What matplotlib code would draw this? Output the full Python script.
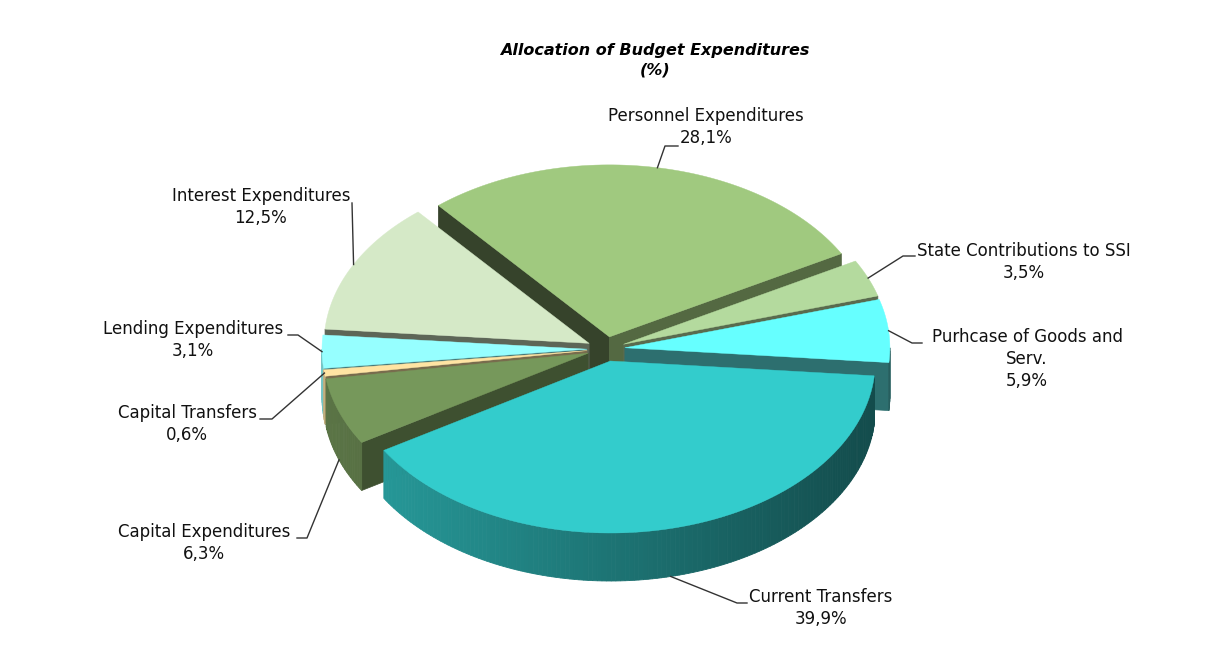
import numpy as np
import matplotlib
matplotlib.use("Agg")
import matplotlib.pyplot as plt
from matplotlib.patches import Polygon

# data
categories = ["Personnel Expenditures", "State Contributions to SSI",
              "Purhcase of Goods and\nServ.", "Current Transfers",
              "Capital Expenditures", "Capital Transfers",
              "Lending Expenditures", "Interest Expenditures"]
shares = [28.1, 3.5, 5.9, 39.9, 6.3, 0.6, 3.1, 12.5]
colors = ["#a0c97f", "#b4da9e", "#66ffff", "#33cccc",
          "#76985b", "#ffe4a3", "#96ffff", "#d5e9c7"]

# label layout: text centre, elbow of leader line, end of leader line
label_pos = [(706, 127), (1024, 262), (1027, 359), (821, 608),
             (204, 543), (187, 424), (193, 340), (261, 207)]
leader_elbow = [(665, 146), (903, 256), (912, 343), (737, 603),
                (307, 538), (272, 419), (298, 335), (352, 203)]
leader_end = [(678, 146), (915, 256), (922, 343), (747, 603),
              (297, 538), (260, 419), (288, 335), None]

# pie geometry (pixels)
cx, cy = 606, 349
rx, ry = 265, 172
depth = 48
explode = 19
start_angle = 130.2

plt.rcParams['font.family'] = ['DejaVu Sans']
fig = plt.figure(figsize=(12.23, 6.6), dpi=100)
ax = fig.add_axes([0, 0, 1, 1])
ax.set_xlim(0, 1223)
ax.set_ylim(660, 0)
ax.axis('off')


def shade(hexcol, f):
    r, g, b = matplotlib.colors.to_rgb(hexcol)
    return (r * f, g * f, b * f)


def arc(tip, a0, a1, n=80):
    t = np.radians(np.linspace(a0, a1, n))
    return np.column_stack([tip[0] + rx * np.cos(t), tip[1] - ry * np.sin(t)])


vals = np.array(shares)
spans = vals / vals.sum() * 360
starts = start_angle - np.concatenate([[0], np.cumsum(spans)[:-1]])
ends = starts - spans
mids = (starts + ends) / 2

tips = [(cx + explode * np.cos(np.radians(m)), cy - explode * ry / rx * np.sin(np.radians(m)))
        for m in mids]

# back slices first, front ones last
order = np.argsort(-np.sin(np.radians(mids)))
for i in order:
    a0, a1, tip, col = starts[i], ends[i], tips[i], colors[i]
    # radial walls
    for a, nrm in [(a0, a0 + 90), (a1, a1 - 90)]:
        if np.sin(np.radians(nrm)) < 0:
            c = (tip[0] + rx * np.cos(np.radians(a)), tip[1] - ry * np.sin(np.radians(a)))
            quad = [tip, c, (c[0], c[1] + depth), (tip[0], tip[1] + depth)]
            fc = shade(col, 0.45 + 0.15 * np.cos(np.radians(nrm)))
            ax.add_patch(Polygon(quad, closed=True, fc=fc, ec=fc, lw=0.5))
    # outer wall, only the front half is seen
    for k in range(-2, 2):
        lo, hi = max(a1, -180 + 360 * k), min(a0, 360 * k)
        if hi <= lo:
            continue
        ts = np.linspace(lo, hi, max(2, int((hi - lo) / 1.0) + 2))
        for t0, t1 in zip(ts[:-1], ts[1:]):
            top = arc(tip, t0, t1, 2)
            bot = top + [0, depth]
            fc = shade(col, 0.57 - 0.2 * np.cos(np.radians((t0 + t1) / 2)))
            ax.add_patch(Polygon(np.vstack([top, bot[::-1]]), closed=True,
                                 fc=fc, ec=fc, lw=0.6))
    # top face
    pts = np.vstack([[tip], arc(tip, a0, a1)])
    ax.add_patch(Polygon(pts, closed=True, fc=col, ec=col, lw=0.3))

# labels with leader lines
for i, name in enumerate(categories):
    m = np.radians(mids[i])
    ax_x = tips[i][0] + rx * np.cos(m)
    ax_y = tips[i][1] - ry * np.sin(m) + (depth if np.sin(m) < -0.2 else 0)
    pts = [(ax_x, ax_y), leader_elbow[i]]
    if leader_end[i] is not None:
        pts.append(leader_end[i])
    xs, ys = zip(*pts)
    ax.plot(xs, ys, color="#333333", lw=1)
    pct = f"{shares[i]:.1f}".replace(".", ",") + "%"
    ax.text(label_pos[i][0], label_pos[i][1], name + "\n" + pct, ha="center", va="center",
            fontsize=12, linespacing=1.28, color="#111111")

ax.text(655, 60, "Allocation of Budget Expenditures\n(%)", ha="center", va="center",
        fontsize=11.5, fontweight="bold", fontstyle="italic", linespacing=1.35)

fig.savefig("out.png", dpi=100)
